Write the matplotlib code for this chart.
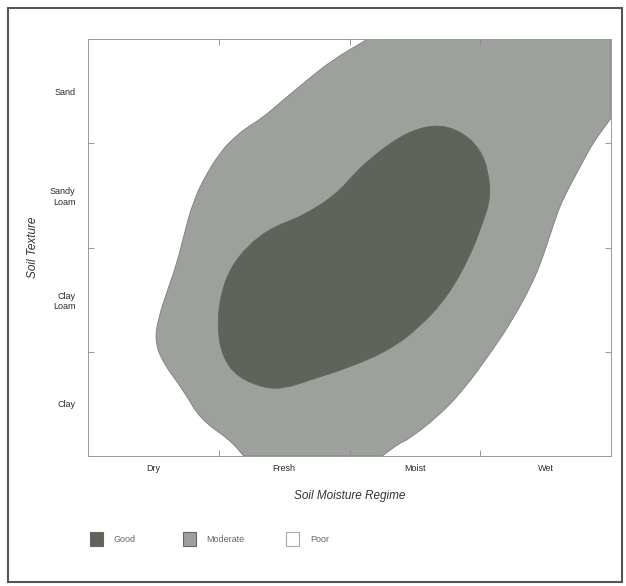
import matplotlib
matplotlib.use("Agg")
import matplotlib.pyplot as plt
from matplotlib.patches import Rectangle, PathPatch
from matplotlib.path import Path

plt.rcParams['font.family'] = ['Liberation Sans', 'DejaVu Sans']

# Categories
moisture_labels = ["Dry", "Fresh", "Moist", "Wet"]
texture_labels = ["Clay", "Clay\nLoam", "Sandy\nLoam", "Sand"]

# Moderate suitability region outline (x = moisture units, y = texture units)
moderate_x = [2.14, 1.87, 1.68, 1.47, 1.33, 1.20, 1.10, 1.03, 0.91, 0.80, 0.73, 0.68,
              0.60, 0.54, 0.51, 0.57, 0.73, 0.86, 1.09, 1.19,
              2.25, 2.39, 2.44, 2.67, 2.87, 3.08, 3.25, 3.40, 3.48, 3.57, 3.63,
              3.78, 3.86, 4.00, 4.00]
moderate_y = [4.00, 3.80, 3.61, 3.39, 3.24, 3.14, 3.03, 2.94, 2.72, 2.43, 2.10, 1.85,
              1.56, 1.33, 1.11, 0.90, 0.63, 0.35, 0.15, 0.00,
              0.00, 0.13, 0.15, 0.37, 0.63, 0.99, 1.31, 1.66, 1.91, 2.26, 2.46,
              2.81, 3.00, 3.24, 4.00]

# Good suitability region outline
good_x = [2.69, 2.87, 3.00, 3.06, 3.08, 3.02, 2.92, 2.75, 2.54, 2.31, 2.00, 1.70,
          1.51, 1.35, 1.14, 1.03, 0.99, 1.01, 1.09, 1.24, 1.42, 1.64, 1.90,
          2.06, 2.18, 2.31, 2.49]
good_y = [3.18, 3.10, 2.94, 2.74, 2.48, 2.24, 1.91, 1.53, 1.24, 1.02, 0.85, 0.73,
          0.65, 0.65, 0.76, 0.95, 1.21, 1.53, 1.81, 2.04, 2.20, 2.30, 2.51,
          2.74, 2.87, 3.00, 3.13]

legend_labels = ["Good", "Moderate", "Poor"]

good_color = "#5f635a"
moderate_color = "#9da19c"
text_color = "#2a2a2a"


def rounded_path(xs, ys, sharp=()):
    """Closed outline through the traced vertices, with rounded joins
    (quadratic Bezier curves) except at the vertices listed in `sharp`."""
    pts = list(zip(xs, ys))
    n = len(pts)
    mid = lambda a, b: ((a[0] + b[0]) / 2, (a[1] + b[1]) / 2)
    verts = [mid(pts[-1], pts[0])]
    codes = [Path.MOVETO]
    for i in range(n):
        p, q = pts[i], pts[(i + 1) % n]
        m = mid(p, q)
        if i in sharp:
            verts += [p, m]
            codes += [Path.LINETO, Path.LINETO]
        else:
            verts += [p, m]
            codes += [Path.CURVE3, Path.CURVE3]
    verts.append(verts[0])
    codes.append(Path.CLOSEPOLY)
    return Path(verts, codes)


W, H = 626, 586
fig = plt.figure(figsize=(W / 100, H / 100), dpi=100)
fig.patch.set_facecolor("white")

ax = fig.add_axes([88 / W, 1 - 456 / H, 523 / W, 417 / H])
ax.set_xlim(0, 4)
ax.set_ylim(0, 4)

ax.add_patch(PathPatch(rounded_path(moderate_x, moderate_y, sharp={0, 19, 20, 33, 34}),
                       facecolor=moderate_color, edgecolor="#7a7e79", lw=0.6, zorder=1))
ax.add_patch(PathPatch(rounded_path(good_x, good_y),
                       facecolor=good_color, edgecolor=good_color, lw=0.6, zorder=2))

ax.set_xticks([0.5, 1.5, 2.5, 3.5])
ax.set_xticklabels(moisture_labels, fontsize=6.5, color=text_color)
ax.set_yticks([0.5, 1.5, 2.5, 3.5])
ax.set_yticklabels(texture_labels, fontsize=6.5, color=text_color)
ax.tick_params(axis="both", which="major", length=0)
ax.tick_params(axis="x", which="major", pad=6)
ax.tick_params(axis="y", which="major", pad=9)
ax.set_xticks([1, 2, 3], minor=True)
ax.set_yticks([1, 2, 3], minor=True)
ax.tick_params(which="minor", direction="in", length=4, width=0.6, color="#888888",
               top=True, right=True, bottom=True, left=True)
for s in ax.spines.values():
    s.set_color("#999999")
    s.set_linewidth(0.7)

ax.set_xlabel("Soil Moisture Regime", fontsize=8.5, style="italic", color="#333333",
              labelpad=12)
ax.set_ylabel("Soil Texture", fontsize=8.5, style="italic", color="#333333", labelpad=8)

# Legend
swatch_colors = [good_color, moderate_color, "white"]
swatch_x = [90, 183, 286]
text_x = [113, 206, 310]
for lab, c, sx, tx in zip(legend_labels, swatch_colors, swatch_x, text_x):
    fig.patches.append(Rectangle((sx / W, 1 - 546 / H), 13 / W, 14 / H,
                                 transform=fig.transFigure, facecolor=c,
                                 edgecolor="#666666" if c != "white" else "#aaaaaa",
                                 lw=0.8))
    fig.text(tx / W, 1 - 539 / H, lab, fontsize=6.5, color="#666666", va="center", ha="left")

# Outer frame
fig.patches.append(Rectangle((8 / W, 1 - 582 / H), 614 / W, 574 / H,
                             transform=fig.transFigure, facecolor="none",
                             edgecolor="#555555", lw=1.5))

fig.savefig("out.png", dpi=100)
